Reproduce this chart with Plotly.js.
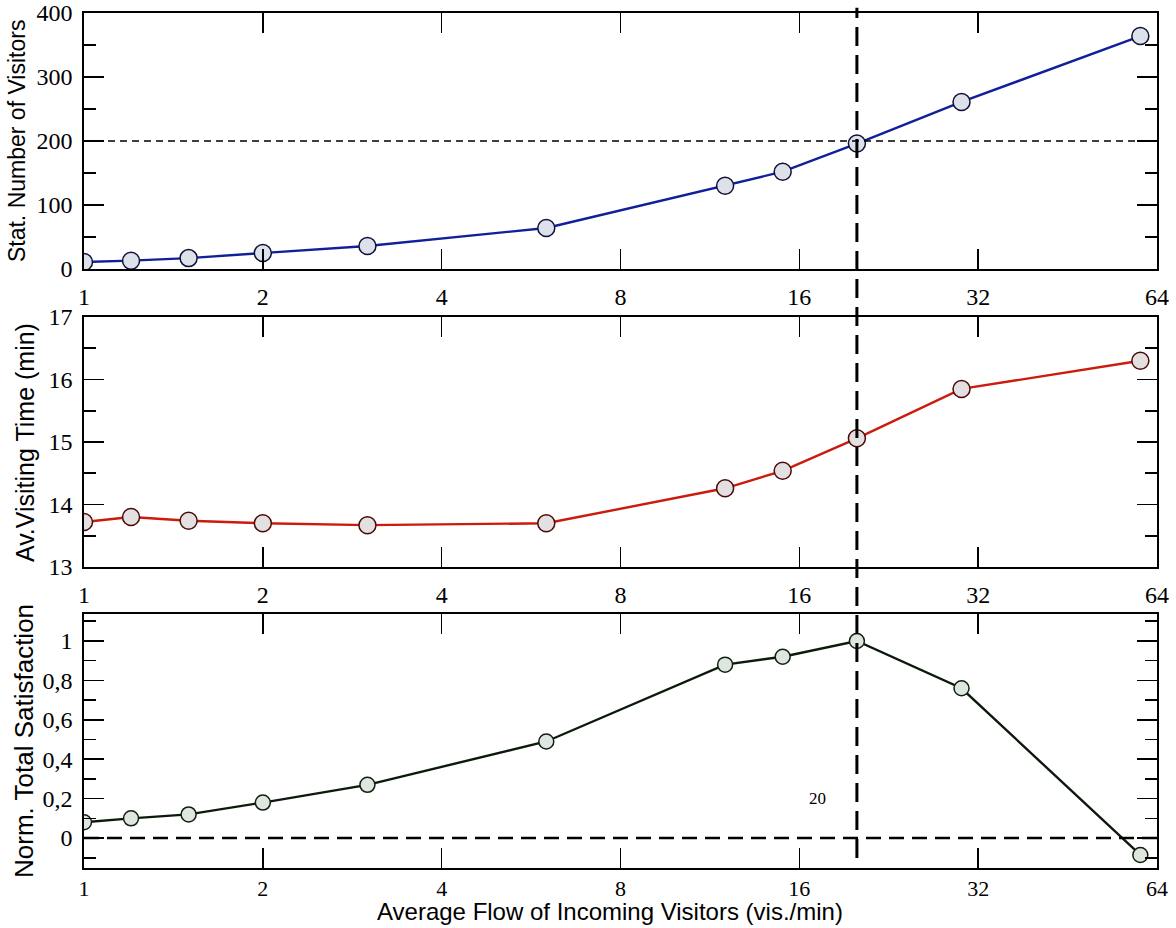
<!DOCTYPE html>
<html>
<head>
<meta charset="utf-8">
<script src="https://cdn.plot.ly/plotly-3.0.1.min.js"></script>
<style>html,body{margin:0;padding:0;background:#fff;}#chart{width:1176px;height:928px;}</style>
</head>
<body>
<div id="chart"></div>
<script>
// ---- data ----
const flow = [1, 1.2, 1.5, 2, 3, 6, 12, 15, 20, 30, 60];
const visitors = [11, 13, 17, 25, 36, 64, 130, 152, 196, 261, 364];
const visitTime = [13.72, 13.80, 13.74, 13.70, 13.67, 13.70, 14.26, 14.54, 15.06, 15.85, 16.30];
const satisfaction = [0.08, 0.10, 0.12, 0.18, 0.27, 0.49, 0.88, 0.92, 1.0, 0.76, -0.086];
const xTickVals = [1, 2, 4, 8, 16, 32, 64];
const xTickText = ['1', '2', '4', '8', '16', '32', '64'];
const optimumFlow = 20;
const visitorLimit = 200;
const satisfactionZero = 0;
const optimumLabel = '20';

const tickFont = {family: 'Liberation Serif, Times New Roman, serif', size: 24, color: '#000'};
function titleFont(sz) { return {family: 'Liberation Sans, Arial, sans-serif', size: sz, color: '#000'}; }

function xAx(anchor, standoff, fsize) {
  return {
    type: 'log', range: [0, Math.log10(64)], anchor: anchor,
    tickvals: xTickVals, ticktext: xTickText,
    ticks: 'inside', ticklen: 20, tickwidth: 1.6, tickcolor: '#000',
    showline: true, linewidth: 1.8, linecolor: '#000', mirror: 'allticks',
    showgrid: false, zeroline: false,
    tickfont: {family: tickFont.family, size: fsize, color: '#000'}, ticklabelstandoff: standoff
  };
}
function yAx(domain, range, dtick, minorDtick) {
  return {
    domain: domain, range: range, dtick: dtick, tick0: 0,
    ticks: 'inside', ticklen: 20, tickwidth: 1.6, tickcolor: '#000',
    minor: {ticks: 'inside', ticklen: 12, tickwidth: 1.6, tickcolor: '#000', dtick: minorDtick, tick0: 0, showgrid: false},
    showline: true, linewidth: 1.8, linecolor: '#000', mirror: 'allticks',
    showgrid: false, zeroline: false, tickfont: tickFont, ticklabelstandoff: 5
  };
}

const traces = [
  {x: flow, y: visitors, xaxis: 'x', yaxis: 'y', mode: 'lines+markers', type: 'scatter',
   line: {color: '#10209a', width: 2.4},
   marker: {size: 17, color: '#dde1e9', line: {color: '#101038', width: 1.5}}},
  {x: flow, y: visitTime, xaxis: 'x2', yaxis: 'y2', mode: 'lines+markers', type: 'scatter',
   line: {color: '#cc1a0c', width: 2.4},
   marker: {size: 17, color: '#e2e0e0', line: {color: '#4a0a08', width: 1.5}}},
  {x: flow, y: satisfaction, xaxis: 'x3', yaxis: 'y3', mode: 'lines+markers', type: 'scatter',
   line: {color: '#0c1a0c', width: 2.4},
   marker: {size: 15, color: '#dfe6df', line: {color: '#102010', width: 1.5}}}
];

const layout = {
  width: 1176, height: 928,
  margin: {l: 84, r: 19, t: 13, b: 60},
  paper_bgcolor: '#fff', plot_bgcolor: '#fff',
  showlegend: false,
  separators: ', ',
  xaxis: xAx('y', 5, 24), xaxis2: xAx('y2', 5, 24), xaxis3: xAx('y3', 0, 22),
  yaxis: yAx([0.7006, 1], [0, 400], 100, 50),
  yaxis2: yAx([0.352, 0.6444], [13, 17], 1, 0.5),
  yaxis3: yAx([0, 0.2971], [-0.152, 1.137], 0.2, 0.1),
  shapes: [
    {type: 'line', xref: 'paper', x0: 0, x1: 1, yref: 'y', y0: visitorLimit, y1: visitorLimit,
     line: {color: '#000', width: 1.3, dash: '7px,5px'}},
    {type: 'line', xref: 'paper', x0: 0, x1: 1, yref: 'y3', y0: satisfactionZero, y1: satisfactionZero,
     line: {color: '#000', width: 2.6, dash: '15px,8px'}},
    {type: 'line', xref: 'x', x0: optimumFlow, x1: optimumFlow, yref: 'paper', y0: 0.0117, y1: 1.006,
     line: {color: '#000', width: 3, dash: '19px,9px'}}
  ],
  annotations: [
    {text: 'Stat. Number of Visitors', textangle: -90, xref: 'paper', x: -0.0624, yref: 'y domain', y: 0.5,
     xanchor: 'center', yanchor: 'middle', showarrow: false, font: titleFont(23)},
    {text: 'Av.Visiting Time (min)', textangle: -90, xref: 'paper', x: -0.055, yref: 'y2 domain', y: 0.5,
     xanchor: 'center', yanchor: 'middle', showarrow: false, font: titleFont(25)},
    {text: 'Norm. Total Satisfaction', textangle: -90, xref: 'paper', x: -0.0559, yref: 'y3 domain', y: 0.5,
     xanchor: 'center', yanchor: 'middle', showarrow: false, font: titleFont(26)},
    {text: 'Average Flow of Incoming Visitors (vis./min)', xref: 'paper', x: 0.490, yref: 'paper', y: -0.051,
     xanchor: 'center', yanchor: 'middle', showarrow: false, font: titleFont(24)},
    {text: optimumLabel, xref: 'paper', x: 0.684, yref: 'y3', y: 0.2,
     xanchor: 'center', yanchor: 'middle', showarrow: false,
     font: {family: 'Liberation Serif, Times New Roman, serif', size: 17, color: '#000'}}
  ]
};

Plotly.newPlot('chart', traces, layout, {staticPlot: true, displayModeBar: false});
</script>
</body>
</html>
